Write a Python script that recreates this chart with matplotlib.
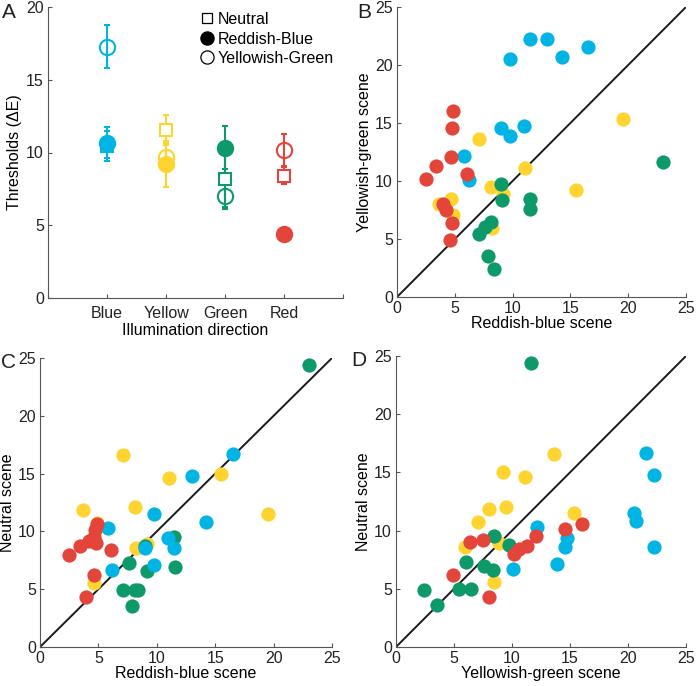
import matplotlib
matplotlib.use('Agg')
import matplotlib.pyplot as plt
import numpy as np
from matplotlib.lines import Line2D

plt.rcParams['font.family'] = ['Liberation Sans', 'DejaVu Sans']
plt.rcParams['font.size'] = 11.5

# thresholds per observer (10 observers) for each illumination direction
# rb: reddish-blue scene, yg: yellowish-green scene, ne: neutral scene
blue_rb = [9.75, 11.5, 13.0, 14.25, 16.5, 9.0, 9.75, 10.95, 5.8, 6.2]
blue_yg = [20.5, 22.25, 22.25, 20.7, 21.55, 14.6, 13.9, 14.7, 12.15, 10.1]
blue_ne = [11.5, 8.6, 14.8, 10.8, 16.7, 8.6, 7.1, 9.4, 10.3, 6.7]

yellow_rb = [7.13, 11.03, 19.55, 15.48, 8.15, 9.2, 3.65, 4.65, 4.88, 8.2]
yellow_yg = [13.6, 11.1, 15.35, 9.2, 9.5, 8.9, 8.0, 8.43, 7.05, 5.95]
yellow_ne = [16.6, 14.6, 11.5, 15.0, 12.07, 8.95, 11.85, 5.55, 10.7, 8.55]

green_rb = [23.03, 9.0, 9.12, 11.47, 11.53, 7.13, 7.65, 8.1, 7.87, 8.37]
green_yg = [11.67, 9.78, 8.4, 8.43, 7.62, 5.4, 6.05, 6.45, 3.54, 2.43]
green_ne = [24.4, 8.72, 6.6, 9.5, 6.92, 4.95, 7.3, 4.97, 3.57, 4.89]

red_rb = [2.5, 3.4, 4.65, 4.75, 4.85, 6.05, 3.95, 4.2, 4.8, 4.6]
red_yg = [10.2, 11.3, 12.1, 14.6, 16.05, 10.6, 8.0, 7.5, 6.4, 4.9]
red_ne = [8.0, 8.7, 9.5, 10.1, 10.6, 8.4, 4.3, 9.2, 9.0, 6.2]

directions = ['Blue', 'Yellow', 'Green', 'Red']
colors = {'Blue': '#00B4E4', 'Yellow': '#FFD330', 'Green': '#0E9A68', 'Red': '#E4453B'}

data = {
    'Blue': (blue_rb, blue_yg, blue_ne),
    'Yellow': (yellow_rb, yellow_yg, yellow_ne),
    'Green': (green_rb, green_yg, green_ne),
    'Red': (red_rb, red_yg, red_ne),
}

W, H = 697, 686
fig = plt.figure(figsize=(W / 100, H / 100), dpi=100)


def add_ax(l, r, t, b):
    return fig.add_axes([l / W, 1 - b / H, (r - l) / W, (b - t) / H])


def style(ax):
    for s in ['top', 'right']:
        ax.spines[s].set_visible(False)
    for s in ['left', 'bottom']:
        ax.spines[s].set_color('#555555')
        ax.spines[s].set_linewidth(0.8)
    ax.tick_params(direction='in', length=3, width=0.8, color='#555555',
                   labelcolor='#222222', labelsize=11.5, pad=3)


# %% A: mean thresholds (+- SEM)
axA = add_ax(48, 343, 7, 298)
for i, d in enumerate(directions):
    x = i + 1
    c = colors[d]
    rb, yg, ne = [np.array(v) for v in data[d]]
    sem = lambda v: v.std(ddof=1) / np.sqrt(len(v))
    axA.errorbar(x, ne.mean(), yerr=sem(ne), fmt='s', mfc='white', mec=c, ecolor=c,
                 ms=8, mew=1.5, elinewidth=1.5, capsize=2, capthick=1.5)
    axA.errorbar(x, yg.mean(), yerr=sem(yg), fmt='o', mfc='none', mec=c, ecolor=c,
                 ms=11, mew=1.5, elinewidth=1.5, capsize=2, capthick=1.5)
    axA.errorbar(x, rb.mean(), yerr=sem(rb), fmt='o', mfc=c, mec=c, ecolor=c,
                 ms=11, mew=1.5, elinewidth=1.5, capsize=2, capthick=1.5)
axA.set_xlim(0, 5)
axA.set_ylim(0, 20)
axA.set_xticks(range(6))
axA.set_xticklabels([''] + directions + [''])
axA.set_yticks([0, 5, 10, 15, 20])
style(axA)
axA.tick_params(axis='x', pad=6)
axA.set_ylabel('Thresholds (ΔE)', labelpad=3)
axA.set_xlabel('Illumination direction', labelpad=1)

handles = [Line2D([], [], ls='none', marker='s', mfc='white', mec='k', ms=7.5, mew=0.9),
           Line2D([], [], ls='none', marker='o', mfc='k', mec='k', ms=9.5, mew=0.9),
           Line2D([], [], ls='none', marker='o', mfc='white', mec='k', ms=9.5, mew=0.9)]
axA.legend(handles, ['Neutral', 'Reddish-Blue', 'Yellowish-Green'], loc='upper left',
           bbox_to_anchor=(0.49, 1.01), frameon=False, borderpad=0, handlelength=0.8,
           handletextpad=0.3, labelspacing=0.28, fontsize=11.5)

# %% B, C, D: observer scatter
panels = [
    (add_ax(397, 686, 7, 297), 0, 1, 'Reddish-blue scene', 'Yellowish-green scene'),
    (add_ax(40, 332, 358, 647), 0, 2, 'Reddish-blue scene', 'Neutral scene'),
    (add_ax(396, 686, 356, 647), 1, 2, 'Yellowish-green scene', 'Neutral scene'),
]
for ax, ix, iy, xl, yl in panels:
    ax.plot([0, 25], [0, 25], color='#1a1a1a', lw=1.4, zorder=1)
    for d in ['Yellow', 'Green', 'Blue', 'Red']:
        ax.scatter(data[d][ix], data[d][iy], s=105, color=colors[d], lw=0, zorder=2)
    ax.set_xlim(0, 25)
    ax.set_ylim(0, 25)
    ax.set_xticks(range(0, 26, 5))
    ax.set_yticks(range(0, 26, 5))
    ax.set_xlabel(xl, labelpad=0)
    ax.set_ylabel(yl, labelpad=2)
    style(ax)

for lab, x, y in [('A', 2, 12), ('B', 357, 12), ('C', 1, 362), ('D', 351, 361)]:
    fig.text(x / W, 1 - y / H, lab, fontsize=15, va='center', ha='left', color='#222222')

fig.savefig('out.png', dpi=100)
